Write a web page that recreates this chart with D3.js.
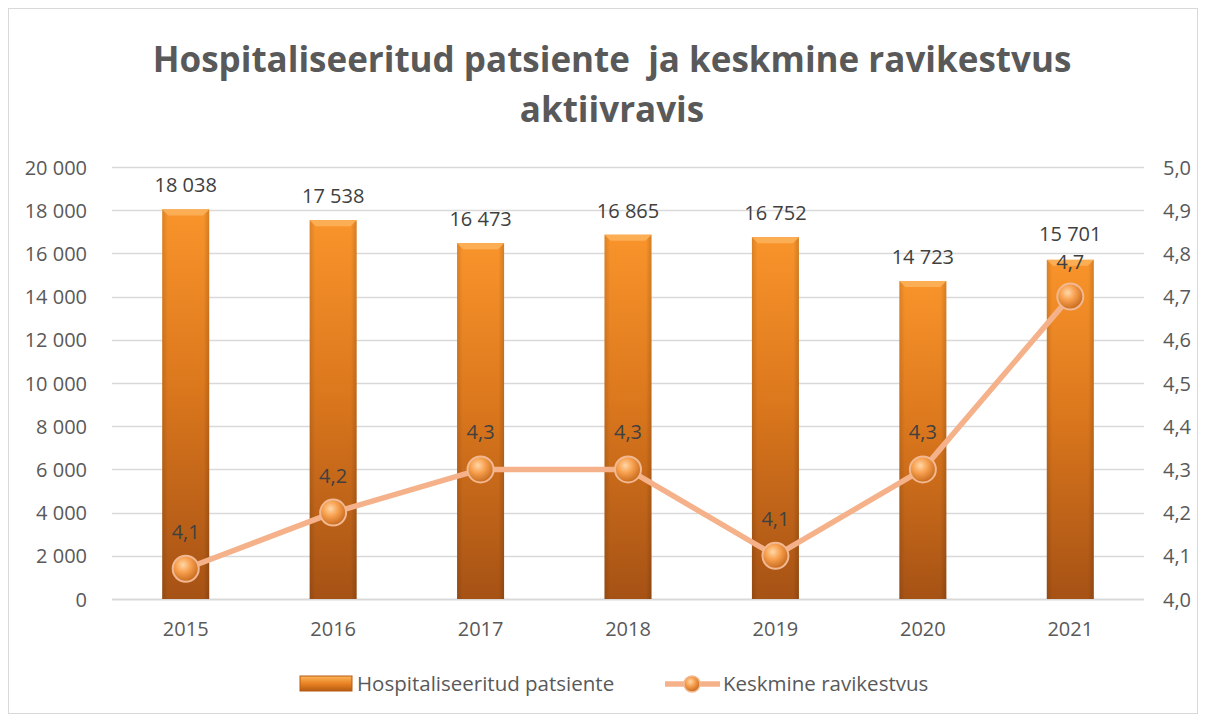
<!DOCTYPE html>
<html>
<head>
<meta charset="utf-8">
<script src="https://cdn.jsdelivr.net/npm/d3@7"></script>
<style>
  body { margin: 0; background: #fff; }
  text { font-family: "Open Sans", "Noto Sans", sans-serif; }
</style>
</head>
<body>
<div id="chart"></div>
<script>
// chart data
var years = ["2015", "2016", "2017", "2018", "2019", "2020", "2021"];
var patients = [18038, 17538, 16473, 16865, 16752, 14723, 15701];
var stay = [4.07, 4.2, 4.3, 4.3, 4.1, 4.3, 4.7];
var stayLabels = ["4,1", "4,2", "4,3", "4,3", "4,1", "4,3", "4,7"];
var leftTicks = [0, 2000, 4000, 6000, 8000, 10000, 12000, 14000, 16000, 18000, 20000];
var rightTicks = [4.0, 4.1, 4.2, 4.3, 4.4, 4.5, 4.6, 4.7, 4.8, 4.9, 5.0];

var W = 1206, H = 715;
var plot = {left: 112, right: 1144, top: 167, bottom: 599};
var FONT = "'Open Sans', 'Noto Sans', sans-serif";

var svg = d3.select("#chart").append("svg")
    .attr("width", W)
    .attr("height", H);

var defs = svg.append("defs");

// bar gradient: bright orange at top, brown at bottom
var bg = defs.append("linearGradient").attr("id", "barGrad")
    .attr("x1", 0).attr("y1", 0).attr("x2", 0).attr("y2", 1);
bg.append("stop").attr("offset", "0%").attr("stop-color", "#f9942b");
bg.append("stop").attr("offset", "45%").attr("stop-color", "#dc781d");
bg.append("stop").attr("offset", "100%").attr("stop-color", "#a65215");

var sg = defs.append("linearGradient").attr("id", "sideGrad")
    .attr("x1", 0).attr("y1", 0).attr("x2", 1).attr("y2", 0);
sg.append("stop").attr("offset", "0%").attr("stop-color", "#000").attr("stop-opacity", 0.12);
sg.append("stop").attr("offset", "12%").attr("stop-color", "#000").attr("stop-opacity", 0);
sg.append("stop").attr("offset", "88%").attr("stop-color", "#000").attr("stop-opacity", 0);
sg.append("stop").attr("offset", "100%").attr("stop-color", "#000").attr("stop-opacity", 0.15);

var mg = defs.append("radialGradient").attr("id", "markGrad")
    .attr("cx", "40%").attr("cy", "35%").attr("r", "65%");
mg.append("stop").attr("offset", "0%").attr("stop-color", "#ffd7a8");
mg.append("stop").attr("offset", "45%").attr("stop-color", "#f7a04e");
mg.append("stop").attr("offset", "100%").attr("stop-color", "#c86a1e");

var lg = defs.append("linearGradient").attr("id", "legGrad")
    .attr("x1", 0).attr("y1", 0).attr("x2", 0).attr("y2", 1);
lg.append("stop").attr("offset", "0%").attr("stop-color", "#fcb55a");
lg.append("stop").attr("offset", "50%").attr("stop-color", "#e98323");
lg.append("stop").attr("offset", "100%").attr("stop-color", "#b65b12");

// outer border
svg.append("rect")
    .attr("x", 8.5).attr("y", 8.5)
    .attr("width", W - 17).attr("height", H - 10)
    .attr("fill", "none").attr("stroke", "#d9d9d9");

// title (keeps the double space of the original)
svg.append("text")
    .attr("x", 612).attr("y", 72)
    .attr("text-anchor", "middle")
    .style("white-space", "pre")
    .style("font-size", "35px").style("font-weight", "bold").style("fill", "#595959")
    .text("Hospitaliseeritud patsiente  ja keskmine ravikestvus");
svg.append("text")
    .attr("x", 612).attr("y", 122)
    .attr("text-anchor", "middle")
    .style("font-size", "35px").style("font-weight", "bold").style("fill", "#595959")
    .text("aktiivravis");

// scales
var x = d3.scaleBand().domain(years).range([plot.left, plot.right]).padding(0);
var yL = d3.scaleLinear().domain([0, 20000]).range([plot.bottom, plot.top]);
var yR = d3.scaleLinear().domain([4.0, 5.0]).range([plot.bottom, plot.top]);

var fmtL = function(d) { return d3.format(",")(d).replace(/,/g, " "); };
var fmtR = function(d) { return d3.format(".1f")(d).replace(".", ","); };

// gridlines
svg.append("g").selectAll("line")
    .data(leftTicks.slice(1))
    .enter().append("line")
    .attr("x1", plot.left).attr("x2", plot.right)
    .attr("y1", function(d) { return Math.round(yL(d)) + 0.5; })
    .attr("y2", function(d) { return Math.round(yL(d)) + 0.5; })
    .attr("stroke", "#d9d9d9").attr("stroke-width", 1.5);

// axes
var axL = svg.append("g")
    .attr("transform", "translate(" + (plot.left - 22) + ",0)")
    .call(d3.axisLeft(yL).tickValues(leftTicks).tickFormat(fmtL).tickSize(0));
var axR = svg.append("g")
    .attr("transform", "translate(" + (plot.right + 16) + ",0)")
    .call(d3.axisRight(yR).tickValues(rightTicks).tickFormat(fmtR).tickSize(0));
var axB = svg.append("g")
    .attr("transform", "translate(0," + (plot.bottom + 20) + ")")
    .call(d3.axisBottom(x).tickSize(0));
[axL, axR, axB].forEach(function(a) {
    a.select(".domain").remove();
    a.selectAll("text").style("font-size", "20px").style("fill", "#595959")
        .style("font-family", FONT);
});
axL.selectAll("text").attr("dy", "0.35em");
axR.selectAll("text").attr("dy", "0.35em");

// baseline
svg.append("line")
    .attr("x1", plot.left).attr("x2", plot.right)
    .attr("y1", plot.bottom + 0.5).attr("y2", plot.bottom + 0.5)
    .attr("stroke", "#d9d9d9").attr("stroke-width", 2);

// bars
var barW = 47, bev = 6;
var bars = svg.append("g").selectAll("g.bar")
    .data(years)
    .enter().append("g").attr("class", "bar");

bars.append("rect")
    .attr("x", function(d) { return x(d) + x.bandwidth() / 2 - barW / 2; })
    .attr("y", function(d, i) { return yL(patients[i]); })
    .attr("width", barW)
    .attr("height", function(d, i) { return plot.bottom - yL(patients[i]); })
    .attr("fill", "url(#barGrad)");
bars.append("rect")
    .attr("x", function(d) { return x(d) + x.bandwidth() / 2 - barW / 2; })
    .attr("y", function(d, i) { return yL(patients[i]); })
    .attr("width", barW)
    .attr("height", function(d, i) { return plot.bottom - yL(patients[i]); })
    .attr("fill", "url(#sideGrad)");
// bevelled top
bars.append("path")
    .attr("d", function(d, i) {
        var x0 = x(d) + x.bandwidth() / 2 - barW / 2, y0 = yL(patients[i]);
        return "M" + x0 + "," + y0 + "h" + barW + "l" + (-bev) + "," + bev +
            "h" + (-(barW - 2 * bev)) + "Z";
    })
    .attr("fill", "#fcae55");

// label positions; nudge apart where bar label and line label collide
var barLabY = patients.map(function(v) { return yL(v) - 17; });
var lineLabY = stay.map(function(v) { return yR(v) - 30; });
barLabY.forEach(function(b, i) {
    var gap = lineLabY[i] - b;
    if (gap > -10 && gap < 28) {
        var push = (28 - gap) / 2;
        barLabY[i] -= push;
        lineLabY[i] += push;
    }
});

// bar labels
svg.append("g").selectAll("text")
    .data(years)
    .enter().append("text")
    .attr("x", function(d) { return x(d) + x.bandwidth() / 2; })
    .attr("y", function(d, i) { return barLabY[i]; })
    .attr("text-anchor", "middle")
    .style("font-size", "20px").style("fill", "#404040")
    .text(function(d, i) { return fmtL(patients[i]); });

// line
var line = d3.line()
    .x(function(d, i) { return x(years[i]) + x.bandwidth() / 2; })
    .y(function(d) { return yR(d); });

svg.append("path")
    .datum(stay)
    .attr("d", line)
    .attr("fill", "none")
    .attr("stroke", "#f5b28a")
    .attr("stroke-width", 5.5)
    .attr("stroke-linejoin", "round");

svg.append("g").selectAll("circle")
    .data(stay)
    .enter().append("circle")
    .attr("cx", function(d, i) { return x(years[i]) + x.bandwidth() / 2; })
    .attr("cy", function(d) { return yR(d); })
    .attr("r", 13)
    .attr("fill", "url(#markGrad)")
    .attr("stroke", "#f2b891").attr("stroke-width", 2);

svg.append("g").selectAll("text")
    .data(stay)
    .enter().append("text")
    .attr("x", function(d, i) { return x(years[i]) + x.bandwidth() / 2; })
    .attr("y", function(d, i) { return lineLabY[i]; })
    .attr("text-anchor", "middle")
    .style("font-size", "20px").style("fill", "#404040")
    .text(function(d, i) { return stayLabels[i]; });

// legend
var leg = svg.append("g");
leg.append("rect")
    .attr("x", 300).attr("y", 676).attr("width", 52).attr("height", 15)
    .attr("fill", "url(#legGrad)").attr("stroke", "#b65b12").attr("stroke-width", 1);
leg.append("text")
    .attr("x", 357).attr("y", 691)
    .style("font-size", "20.5px").style("fill", "#595959")
    .text("Hospitaliseeritud patsiente");
leg.append("line")
    .attr("x1", 665).attr("x2", 720).attr("y1", 684).attr("y2", 684)
    .attr("stroke", "#f5b28a").attr("stroke-width", 5.5);
leg.append("circle")
    .attr("cx", 692).attr("cy", 684).attr("r", 8)
    .attr("fill", "url(#markGrad)").attr("stroke", "#f2b891").attr("stroke-width", 1.5);
leg.append("text")
    .attr("x", 723).attr("y", 691)
    .style("font-size", "20.5px").style("fill", "#595959")
    .text("Keskmine ravikestvus");
</script>
</body>
</html>
